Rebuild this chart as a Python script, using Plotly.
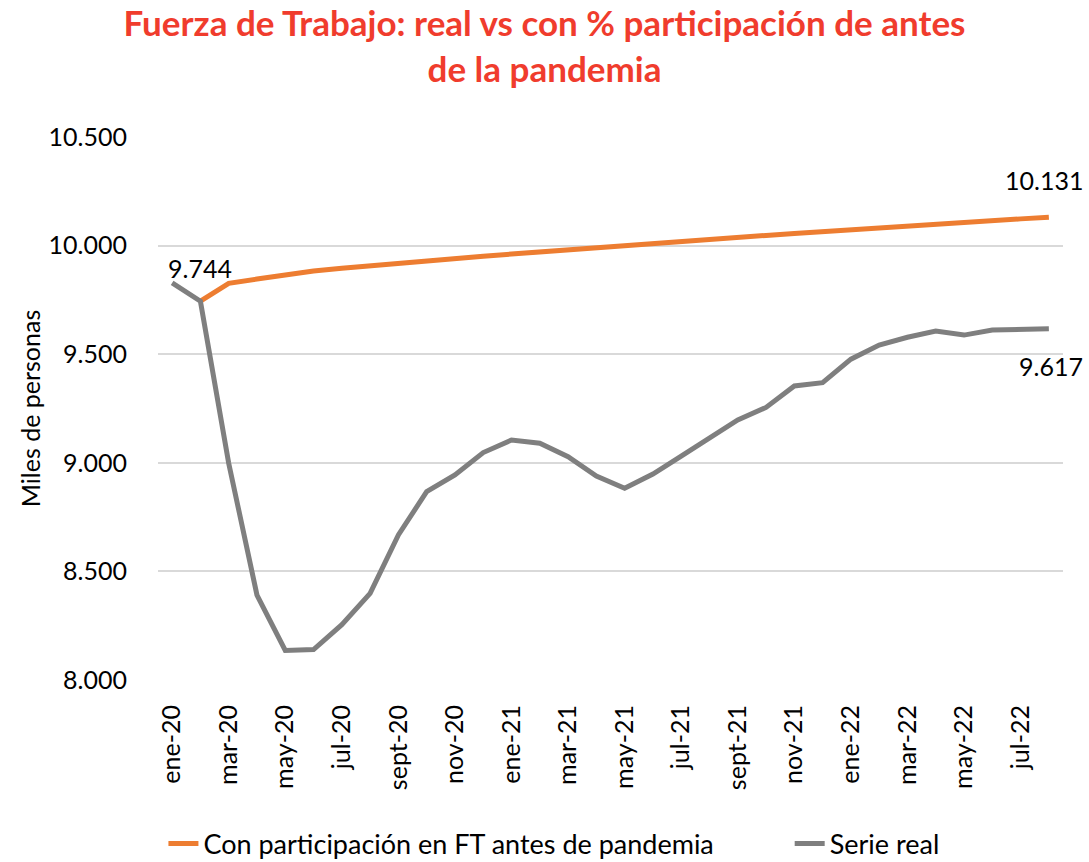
import plotly.graph_objects as go

months = ["ene", "feb", "mar", "abr", "may", "jun", "jul", "ago", "sept", "oct", "nov", "dic"]
categories = [f"{m}-{y}" for y in ["20", "21", "22"] for m in months][:32]

serie_real = [9828, 9744, 8998, 8391, 8136, 8140, 8255, 8399, 8668, 8867, 8944, 9047,
              9105, 9090, 9028, 8939, 8883, 8948, 9031, 9113, 9197, 9255, 9354, 9369,
              9477, 9542, 9578, 9607, 9588, 9611, 9615, 9617]

con_participacion = [None, 9744, 9826, 9846, 9865, 9883, 9896, 9908, 9919, 9930, 9941, 9951,
                     9961, 9971, 9981, 9991, 10002, 10011, 10020, 10029, 10038, 10047, 10056, 10065,
                     10074, 10082, 10090, 10099, 10107, 10115, 10123, 10131]

tick_labels = categories[::2]
y_ticks = [8000, 8500, 9000, 9500, 10000, 10500]

FONT = "Lato, 'Open Sans', sans-serif"
ORANGE = "#ED7D31"
GRAY = "#7F7F7F"


def fmt(v):
    return f"{v:,.0f}".replace(",", ".")


fig = go.Figure()
fig.add_trace(go.Scatter(
    x=categories, y=con_participacion, mode="lines",
    name="Con participación en FT antes de pandemia",
    line=dict(color=ORANGE, width=5), connectgaps=False, legend="legend",
))
fig.add_trace(go.Scatter(
    x=categories, y=serie_real, mode="lines",
    name="Serie real",
    line=dict(color=GRAY, width=5), legend="legend2",
))

annotations = [
    dict(x=categories[1], y=serie_real[1], text=fmt(serie_real[1]), yshift=33,
         xanchor="center"),
    dict(x=categories[-1], y=con_participacion[-1], text=fmt(con_participacion[-1]), yshift=37,
         xanchor="right", xshift=36),
    dict(x=categories[-1], y=serie_real[-1], text=fmt(serie_real[-1]), yshift=-37,
         xanchor="right", xshift=36),
]
for a in annotations:
    a.update(xref="x", yref="y", showarrow=False, yanchor="middle",
             font=dict(family=FONT, size=25, color="#000000"))

legend_common = dict(
    orientation="h", yanchor="middle", xanchor="left",
    font=dict(family=FONT, size=27, color="#000000"),
    bgcolor="rgba(0,0,0,0)", itemwidth=30,
)

fig.update_layout(
    width=1089, height=862,
    margin=dict(l=158, r=26, t=137, b=182, autoexpand=False),
    paper_bgcolor="white", plot_bgcolor="white",
    separators=",.",
    font=dict(family=FONT, size=25, color="#000000"),
    title=dict(
        text="<b>Fuerza de Trabajo: real vs con % participación de antes<br>de la pandemia</b>",
        x=0.5, xref="container", xanchor="center",
        y=0.958, yref="container", yanchor="top",
        font=dict(family=FONT, size=35, color="#F03C2D"),
    ),
    xaxis=dict(
        type="category", categoryorder="array", categoryarray=categories,
        range=[-0.5, len(categories) - 0.5],
        tickmode="array", tickvals=tick_labels, ticktext=tick_labels,
        tickangle=-90, showgrid=False, ticks="", ticklabelstandoff=19,
        showline=False, zeroline=False, automargin=False,
        tickfont=dict(family=FONT, size=25, color="#000000"),
    ),
    yaxis=dict(
        range=[8000, 10500], tickmode="array", tickvals=y_ticks,
        tickformat=",.0f", showgrid=True, gridcolor="#D9D9D9", gridwidth=1.5,
        zeroline=False, showline=False, ticks="", ticklabelstandoff=30,
        automargin=False,
        tickfont=dict(family=FONT, size=25, color="#000000"),
        title=dict(text="Miles de personas", standoff=0,
                   font=dict(family=FONT, size=25, color="#000000")),
    ),
    legend=dict(x=0.006, y=-0.302, **legend_common),
    legend2=dict(x=0.698, y=-0.302, **legend_common),
    annotations=annotations,
    showlegend=True,
)

fig.write_html("out.html", config={"displayModeBar": False},
               post_script="document.body.style.margin='0';")
